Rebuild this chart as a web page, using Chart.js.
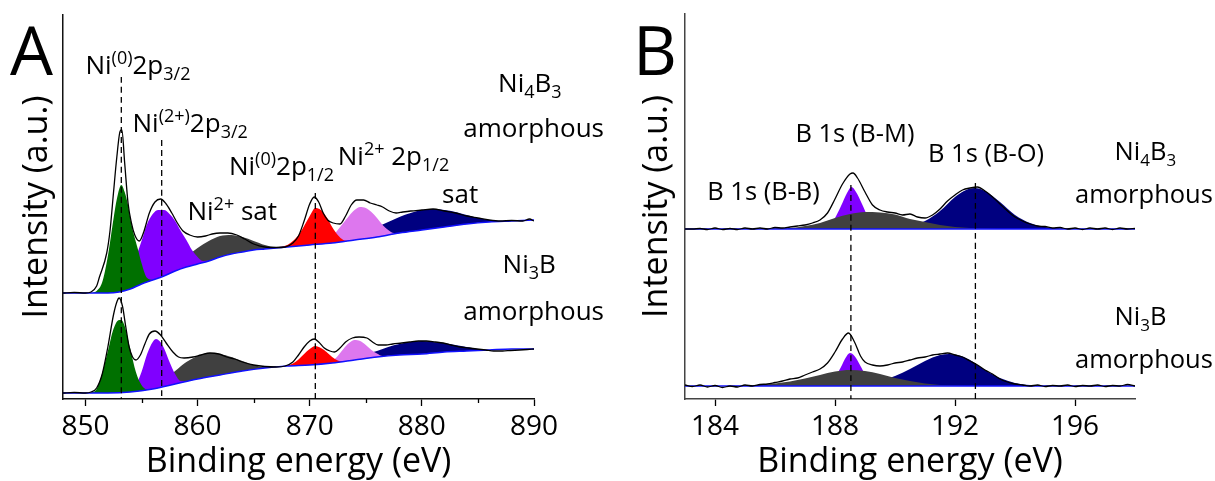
<!DOCTYPE html>
<html>
<head>
<meta charset="utf-8">
<script src="https://cdn.jsdelivr.net/npm/chart.js@4.4.0/dist/chart.umd.min.js"></script>
<style>
  html, body { margin: 0; padding: 0; background: #fff; }
  body { width: 1215px; height: 481px; position: relative; overflow: hidden; }
  canvas { position: absolute; top: 0; }
  #chartA { left: 0; }
  #chartB { left: 615px; }
</style>
</head>
<body>
<canvas id="chartA" width="615" height="481"></canvas>
<canvas id="chartB" width="600" height="481"></canvas>
<script>
// ---- Panel A: Ni 2p, [binding energy eV, intensity a.u.] ----
const niTopBase = [[848,106],[850,106],[852,106],[853,107],[854,110],[855,115],[856,119],[857,123],[858,128],[859,132],[860,135],[861,138],[862,142],[863,145],[864,147],[865,149],[866,150],[867,151],[868,152],[869,153],[870,154],[872,156],[874,159],[876,162],[878,166],[880,169],[882,172],[884,175],[886,177],[888,178],[890,179]];
const niTopRaw = [[848,106],[849,106.5],[850,106],[850.5,107],[851,113],[851.25,122],[851.9,146],[852.2,169],[852.5,206],[852.8,242],[853.1,268],[853.25,269],[853.5,236],[853.8,196],[854.1,176],[854.4,164],[854.8,158],[855.2,167],[855.7,186],[856.2,197],[856.7,200],[857.2,195],[857.7,186],[858.2,176],[858.7,168],[859.3,164],[860,162],[860.7,163],[861.3,165],[862,166],[862.7,166],[863.5,164],[864.2,160],[865,155],[866,152],[867,151.5],[867.8,152],[868.5,156],[869,163],[869.5,178],[870,195],[870.4,202],[870.8,197],[871.2,186],[871.6,179],[872.1,176],[872.7,175],[873.2,183],[873.7,194],[874.2,199],[874.8,199],[875.4,196],[876,194],[876.5,192],[877.1,188],[877.7,186],[878.3,187],[879,188],[880,189],[881,190],[882,188],[883,186],[884,183],[885,181],[886,179],[887,178],[888,178.5],[889,178],[889.6,180],[890,178]];
const niTopGreen = [[850.6,106],[851,108],[851.5,117],[852,143],[852.5,180],[852.8,200],[853.2,214],[853.5,207],[853.8,194],[854.1,175],[854.4,161],[854.7,149],[855,136],[855.5,121],[856,119]];
const niTopPurple = [[852.5,109],[853,116],[853.5,121],[854,130],[854.5,142],[855,158],[855.5,175],[856,185],[856.5,189],[857,189],[857.5,185],[858,178],[858.5,168],[859,159],[859.5,149],[860,142],[860.5,138],[861,138.5]];
const niTopGray = [[856,119],[857,125],[858,133],[859,142],[860,151],[861,158],[862,163],[863,164],[864,162],[865,158],[866,154],[867,152],[868,152.3]];
const niTopRed = [[866.5,150.5],[867,151.5],[868,154],[868.5,158],[869,164],[869.5,173],[870,183],[870.5,191],[871,189],[871.5,182],[872,172],[872.5,164],[873,159],[873.5,158]];
const niTopPink = [[871,157],[872,163],[872.5,169],[873,176],[873.5,183],[874,189],[874.5,192],[875,191],[875.5,187],[876,181],[876.5,174],[877,169],[877.5,166],[878,166]];
const niTopNavy = [[870,154],[871,155],[872,157],[873,160],[874,164],[875,168],[876,172],[877,177],[878,182],[879,186],[880,189],[881,190],[882,189],[883,187],[884,184],[885,181],[886,179],[887,178],[888,178]];

const niBotBase = [[848,6],[850,6],[852,6],[854,7],[856,10],[858,15],[860,20],[862,24],[864,28],[866,31],[868,33],[870,34],[872,36],[874,39],[876,42],[878,44],[880,45],[882,47],[884,48],[886,49],[888,50],[890,50]];
const niBotRaw = [[848,6],[849,6.5],[850,6],[850.5,7],[851,11],[851.5,25],[852,52],[852.5,84],[852.8,97],[853,101],[853.3,93],[853.6,72],[853.9,52],[854.2,42],[854.5,39],[854.9,44],[855.3,55],[855.7,65],[856.2,68],[856.7,64],[857.2,56],[857.8,47],[858.3,42],[858.8,41],[859.6,42],[860.3,44],[861.1,46],[861.9,45],[862.6,42],[863.3,40],[864,37],[865,34],[866,32.5],[867,32],[867.8,33],[868.5,37],[869,44],[869.5,52],[870,58],[870.4,60],[870.8,57],[871.3,51],[871.8,48],[872.2,47],[872.7,51],[873.2,57],[873.8,61],[874.4,62],[875.1,61],[875.6,57],[876.1,54],[876.8,54],[877.4,55],[878.2,56],[878.9,57],[879.7,58],[880.4,58],[881.2,57],[881.9,56],[882.6,54],[883.4,52],[884.2,51],[884.9,50],[885.7,49],[886.4,48],[887.2,48],[887.9,48.5],[888.7,49],[889.4,49.5],[890,50]];
const niBotGreen = [[850.5,6],[851,10],[851.5,26],[852,48],[852.5,70],[853,79],[853.2,79],[853.5,73],[854,50],[854.5,27],[855,14],[855.5,9.5],[856,10]];
const niBotPurple = [[853.5,7],[854,8],[854.5,14],[855,27],[855.5,45],[856,57],[856.3,60],[856.6,58],[857,51],[857.5,37],[858,25],[858.5,18],[859.2,18]];
const niBotGray = [[855,8.5],[856,12],[857,19],[858,28],[859,37],[860,43],[861,46],[862,45],[863,42],[864,38],[865,34],[866,32],[867,32.5]];
const niBotRed = [[866.5,31.5],[867,32],[868,33.5],[868.5,35.5],[869,39.5],[869.5,45],[870,50],[870.5,53],[871,51],[871.5,47],[872,42],[872.5,38.5],[873,37.5]];
const niBotPink = [[871,35],[872,38],[872.5,43],[873,50],[873.5,56],[874,59],[874.5,58],[875,54],[875.5,49],[876,45.5],[876.5,43],[877,43]];
const niBotNavy = [[870,34],[871,35],[872,36.5],[873,39],[874,42],[875,45],[876,48],[877,52],[878,55],[879,57],[880,58],[881,57],[882,56],[883,54],[884,52],[885,50],[886,49],[887,49.5]];

const niPeakLines = [853.2, 856.8, 870.5];
const niPeakTops = [322, 259, 206];
const niTicks = [850, 860, 870, 880, 890];
const niMinorTicks = [855, 865, 875, 885];

// ---- Panel B: B 1s ----
const bTopBase = [[183,170],[198,170]];
const bTopRaw = [[183,170],[183.25,170],[183.5,170.5],[183.75,169.5],[184,171],[184.25,169.5],[184.5,170.5],[184.75,169.5],[185,171],[185.25,170],[185.5,171],[185.75,170],[186,171.5],[186.25,171],[186.5,172],[186.75,173],[187,174],[187.25,176],[187.5,179],[187.75,186],[188,200],[188.25,215],[188.5,225],[188.6,226],[188.75,221],[189,207],[189.25,194],[189.5,189],[189.75,187],[190,186],[190.25,184],[190.5,185],[190.75,182],[191,181],[191.25,184],[191.5,190],[191.75,198],[192,204],[192.25,209],[192.5,211],[192.75,212],[193,208],[193.25,202],[193.5,195],[193.75,188],[194,182],[194.25,178],[194.5,175],[194.75,173],[195,172.5],[195.25,171],[195.5,171.5],[195.75,170],[196,171],[196.25,169.5],[196.5,171],[196.75,170],[197,171],[197.25,169.5],[197.5,171],[197.75,170],[198,170.5]];
const bTopGray = [[185.5,170],[186,170.5],[186.5,171],[187,173],[187.5,176],[188,181],[188.5,185],[189,187],[189.5,186.5],[190,184.5],[190.5,180],[191,177],[191.5,174],[192,172],[192.5,171],[193,170.5],[193.5,170]];
const bTopPurple = [[187.4,170],[187.6,171.5],[187.8,174],[188,181],[188.2,193],[188.4,206],[188.55,212],[188.7,207],[188.9,195],[189.1,182],[189.3,175],[189.5,171.5],[189.7,170]];
const bTopNavy = [[189.5,170],[190,170.5],[190.5,172.5],[191,178],[191.5,188],[192,202],[192.3,208],[192.65,211],[193,208],[193.5,197],[194,184],[194.5,176],[195,172],[195.5,170.5],[196,170]];

const bBotBase = [[183,13],[198,13]];
const bBotRaw = [[183,14],[183.25,12.5],[183.5,14],[183.75,12],[184,13.5],[184.25,11.5],[184.5,13],[184.75,12],[185,14],[185.25,13],[185.5,14.5],[185.75,15],[186,16.5],[186.25,18],[186.5,20],[186.75,21],[187,24],[187.25,27],[187.5,30],[187.75,36],[188,47],[188.25,60],[188.45,66],[188.65,57],[188.85,43],[189,37],[189.25,34],[189.5,33],[189.75,34],[190,36],[190.25,37],[190.5,39],[190.75,41],[191,42],[191.25,44],[191.5,45],[191.75,46],[192,44],[192.25,42],[192.5,38],[192.75,34],[193,29],[193.25,25],[193.5,20],[193.75,17],[194,15],[194.25,14],[194.5,13],[194.75,14],[195,12.5],[195.25,13.5],[195.5,13],[195.75,14],[196,12.5],[196.25,13.5],[196.5,13],[196.75,14],[197,12.5],[197.25,13.5],[197.5,13],[197.75,14.5],[198,13]];
const bBotGray = [[184.5,13],[185,13.5],[185.5,14],[186,15.5],[186.5,17.5],[187,20.5],[187.5,24],[188,27.5],[188.5,29],[189,28],[189.5,25],[190,21],[190.5,18],[191,15.5],[191.5,14],[192,13.5],[192.5,13]];
const bBotPurple = [[187.4,13],[187.6,14],[187.8,17],[188,22],[188.2,32],[188.35,41],[188.5,46],[188.65,43],[188.85,33],[189.05,22],[189.3,16],[189.6,13.5],[189.8,13]];
const bBotNavy = [[188.5,13.5],[189,14.5],[189.5,18],[190,23],[190.5,30],[191,38],[191.5,44],[191.8,45],[192.1,44],[192.5,39],[193,29],[193.5,21],[194,16],[194.5,14],[195,13]];

const bPeakLines = [188.53, 192.68];
const bPeakTops = [214, 216];

// ---- styling ----
const FONT = '"Open Sans", "Noto Sans", sans-serif';
const C = {
  green: '#007000', purple: '#8000ff', gray: '#404040', red: '#ff0000',
  pink: '#dd77ee', navy: '#000080', base: '#1010ff', raw: '#000000'
};

function pts(arr) {
  return arr.map(([x, y]) => ({ x, y }));
}
function lineSet(arr, color, width, order) {
  return { data: pts(arr), borderColor: color, borderWidth: width, pointRadius: 0, fill: false, order };
}
function compSet(arr, color, baseIdx, order) {
  return { data: pts(arr), borderWidth: 0, borderColor: color, pointRadius: 0, backgroundColor: color, fill: { target: baseIdx }, order };
}
function dashSets(xs, tops) {
  return xs.map((x, i) => ({
    data: [{ x, y: tops[i] }, { x, y: 0 }],
    borderColor: '#000', borderWidth: 1.3, borderDash: [6, 4], pointRadius: 0, fill: false, order: 0
  }));
}

// rich text with sub/superscripts
function drawRich(ctx, x, y, parts, size) {
  let cx = x;
  parts.forEach(p => {
    const small = p.sup || p.sub;
    ctx.font = `${small ? Math.round(size * 0.68) : size}px ${FONT}`;
    const dy = p.sup ? -size * 0.38 : (p.sub ? size * 0.24 : 0);
    ctx.fillText(p.t, cx, y + dy);
    cx += ctx.measureText(p.t).width;
  });
}

const labelsA = [
  { e: 850.0, v: 325, parts: [{ t: 'Ni' }, { t: '(0)', sup: 1 }, { t: '2p' }, { t: '3/2', sub: 1 }] },
  { e: 854.2, v: 267, parts: [{ t: 'Ni' }, { t: '(2+)', sup: 1 }, { t: '2p' }, { t: '3/2', sub: 1 }] },
  { e: 859.1, v: 179, parts: [{ t: 'Ni' }, { t: '2+', sup: 1 }, { t: ' sat' }] },
  { e: 862.8, v: 224, parts: [{ t: 'Ni' }, { t: '(0)', sup: 1 }, { t: '2p' }, { t: '1/2', sub: 1 }] },
  { e: 872.5, v: 234, parts: [{ t: 'Ni' }, { t: '2+', sup: 1 }, { t: ' 2p' }, { t: '1/2', sub: 1 }] },
  { e: 881.8, v: 196, parts: [{ t: 'sat' }] },
  { e: 886.8, v: 307, parts: [{ t: 'Ni' }, { t: '4', sub: 1 }, { t: 'B' }, { t: '3', sub: 1 }] },
  { e: 883.7, v: 262, parts: [{ t: 'amorphous' }] },
  { e: 887.2, v: 126, parts: [{ t: 'Ni' }, { t: '3', sub: 1 }, { t: 'B' }] },
  { e: 883.7, v: 79, parts: [{ t: 'amorphous' }] }
];
const labelsB = [
  { e: 186.68, v: 257, parts: [{ t: 'B 1s (B-M)' }] },
  { e: 183.74, v: 199, parts: [{ t: 'B 1s (B-B)' }] },
  { e: 191.1, v: 237, parts: [{ t: 'B 1s (B-O)' }] },
  { e: 197.32, v: 239, parts: [{ t: 'Ni' }, { t: '4', sub: 1 }, { t: 'B' }, { t: '3', sub: 1 }] },
  { e: 196.0, v: 196, parts: [{ t: 'amorphous' }] },
  { e: 197.32, v: 74, parts: [{ t: 'Ni' }, { t: '3', sub: 1 }, { t: 'B' }] },
  { e: 196.0, v: 31, parts: [{ t: 'amorphous' }] }
];

function labelPlugin(labels, size, letter, letterX, minor) {
  return {
    id: 'labels',
    afterDraw(chart) {
      const ctx = chart.ctx;
      const xs = chart.scales.x, ys = chart.scales.y;
      ctx.save();
      ctx.fillStyle = '#000';
      ctx.textBaseline = 'alphabetic';
      ctx.textAlign = 'left';
      labels.forEach(l => drawRich(ctx, xs.getPixelForValue(l.e), ys.getPixelForValue(l.v), l.parts, size));
      ctx.font = `68px ${FONT}`;
      ctx.fillText(letter, letterX, 75);
      if (minor) {
        ctx.strokeStyle = '#000';
        ctx.lineWidth = 1.3;
        minor.forEach(v => {
          const px = Math.round(xs.getPixelForValue(v)) + 0.5;
          ctx.beginPath();
          ctx.moveTo(px, chart.chartArea.bottom);
          ctx.lineTo(px, chart.chartArea.bottom + 4);
          ctx.stroke();
        });
      }
      ctx.restore();
    }
  };
}

function baseOptions(xMin, xMax, step, yMax, padTop, padRight, yWidth, yTitlePad, axisColor) {
  return {
    responsive: false,
    animation: false,
    events: [],
    layout: { padding: { top: padTop, right: padRight, left: 0, bottom: 0 } },
    elements: { line: { cubicInterpolationMode: 'monotone' } },
    plugins: { legend: { display: false }, tooltip: { enabled: false } },
    scales: {
      x: {
        type: 'linear', min: xMin, max: xMax,
        afterFit: s => { s.height = 82; },
        ticks: {
          stepSize: step, includeBounds: false, padding: 4,
          color: '#000', font: { family: FONT, size: 28 }
        },
        grid: { drawOnChartArea: false, drawTicks: true, tickLength: 7, tickColor: '#000', tickWidth: 1.3 },
        border: { display: true, color: axisColor, width: 1.5 },
        title: {
          display: true, text: 'Binding energy (eV)', color: '#000',
          font: { family: FONT, size: 34, lineHeight: 1.1 }, padding: { top: 0, bottom: 0 }
        }
      },
      y: {
        type: 'linear', min: 0, max: yMax,
        afterFit: s => { s.width = yWidth; },
        ticks: { display: false },
        grid: { drawOnChartArea: false, drawTicks: false },
        border: { display: true, color: axisColor, width: 1.5 },
        title: {
          display: true, text: 'Intensity (a.u.)', color: '#000',
          font: { family: FONT, size: 34 }, padding: { top: yTitlePad, bottom: 0 }
        }
      }
    }
  };
}

// Panel A datasets: 0 top baseline, 1 bottom baseline
const dataA = [
  lineSet(niTopBase, C.base, 1.5, 1),
  lineSet(niBotBase, C.base, 1.5, 1),
  lineSet(niTopRaw, C.raw, 1.3, 0),
  lineSet(niBotRaw, C.raw, 1.3, 0),
  compSet(niTopGreen, C.green, 0, 2),
  compSet(niTopPurple, C.purple, 0, 3),
  compSet(niTopGray, C.gray, 0, 4),
  compSet(niTopRed, C.red, 0, 2),
  compSet(niTopPink, C.pink, 0, 3),
  compSet(niTopNavy, C.navy, 0, 4),
  compSet(niBotGreen, C.green, 1, 2),
  compSet(niBotPurple, C.purple, 1, 3),
  compSet(niBotGray, C.gray, 1, 4),
  compSet(niBotRed, C.red, 1, 2),
  compSet(niBotPink, C.pink, 1, 3),
  compSet(niBotNavy, C.navy, 1, 4),
  ...dashSets(niPeakLines, niPeakTops)
];

new Chart(document.getElementById('chartA'), {
  type: 'line',
  data: { datasets: dataA },
  options: baseOptions(848, 890, 10, 384, 15, 81, 63, 17, '#111'),
  plugins: [labelPlugin(labelsA, 26, 'A', 10, niMinorTicks)]
});

const dataB = [
  lineSet(bTopBase, C.base, 1.5, 1),
  lineSet(bBotBase, C.base, 1.5, 1),
  lineSet(bTopRaw, C.raw, 1.3, 0),
  lineSet(bBotRaw, C.raw, 1.3, 0),
  compSet(bTopGray, C.gray, 0, 2),
  compSet(bTopPurple, C.purple, 0, 3),
  compSet(bTopNavy, C.navy, 0, 3),
  compSet(bBotGray, C.gray, 1, 2),
  compSet(bBotPurple, C.purple, 1, 3),
  compSet(bBotNavy, C.navy, 1, 3),
  ...dashSets(bPeakLines, bPeakTops)
];

new Chart(document.getElementById('chartB'), {
  type: 'line',
  data: { datasets: dataB },
  options: baseOptions(183, 198, 4, 385, 14, 80, 70, 22, '#444'),
  plugins: [labelPlugin(labelsB, 25.5, 'B', 18, null)]
});
</script>
</body>
</html>
